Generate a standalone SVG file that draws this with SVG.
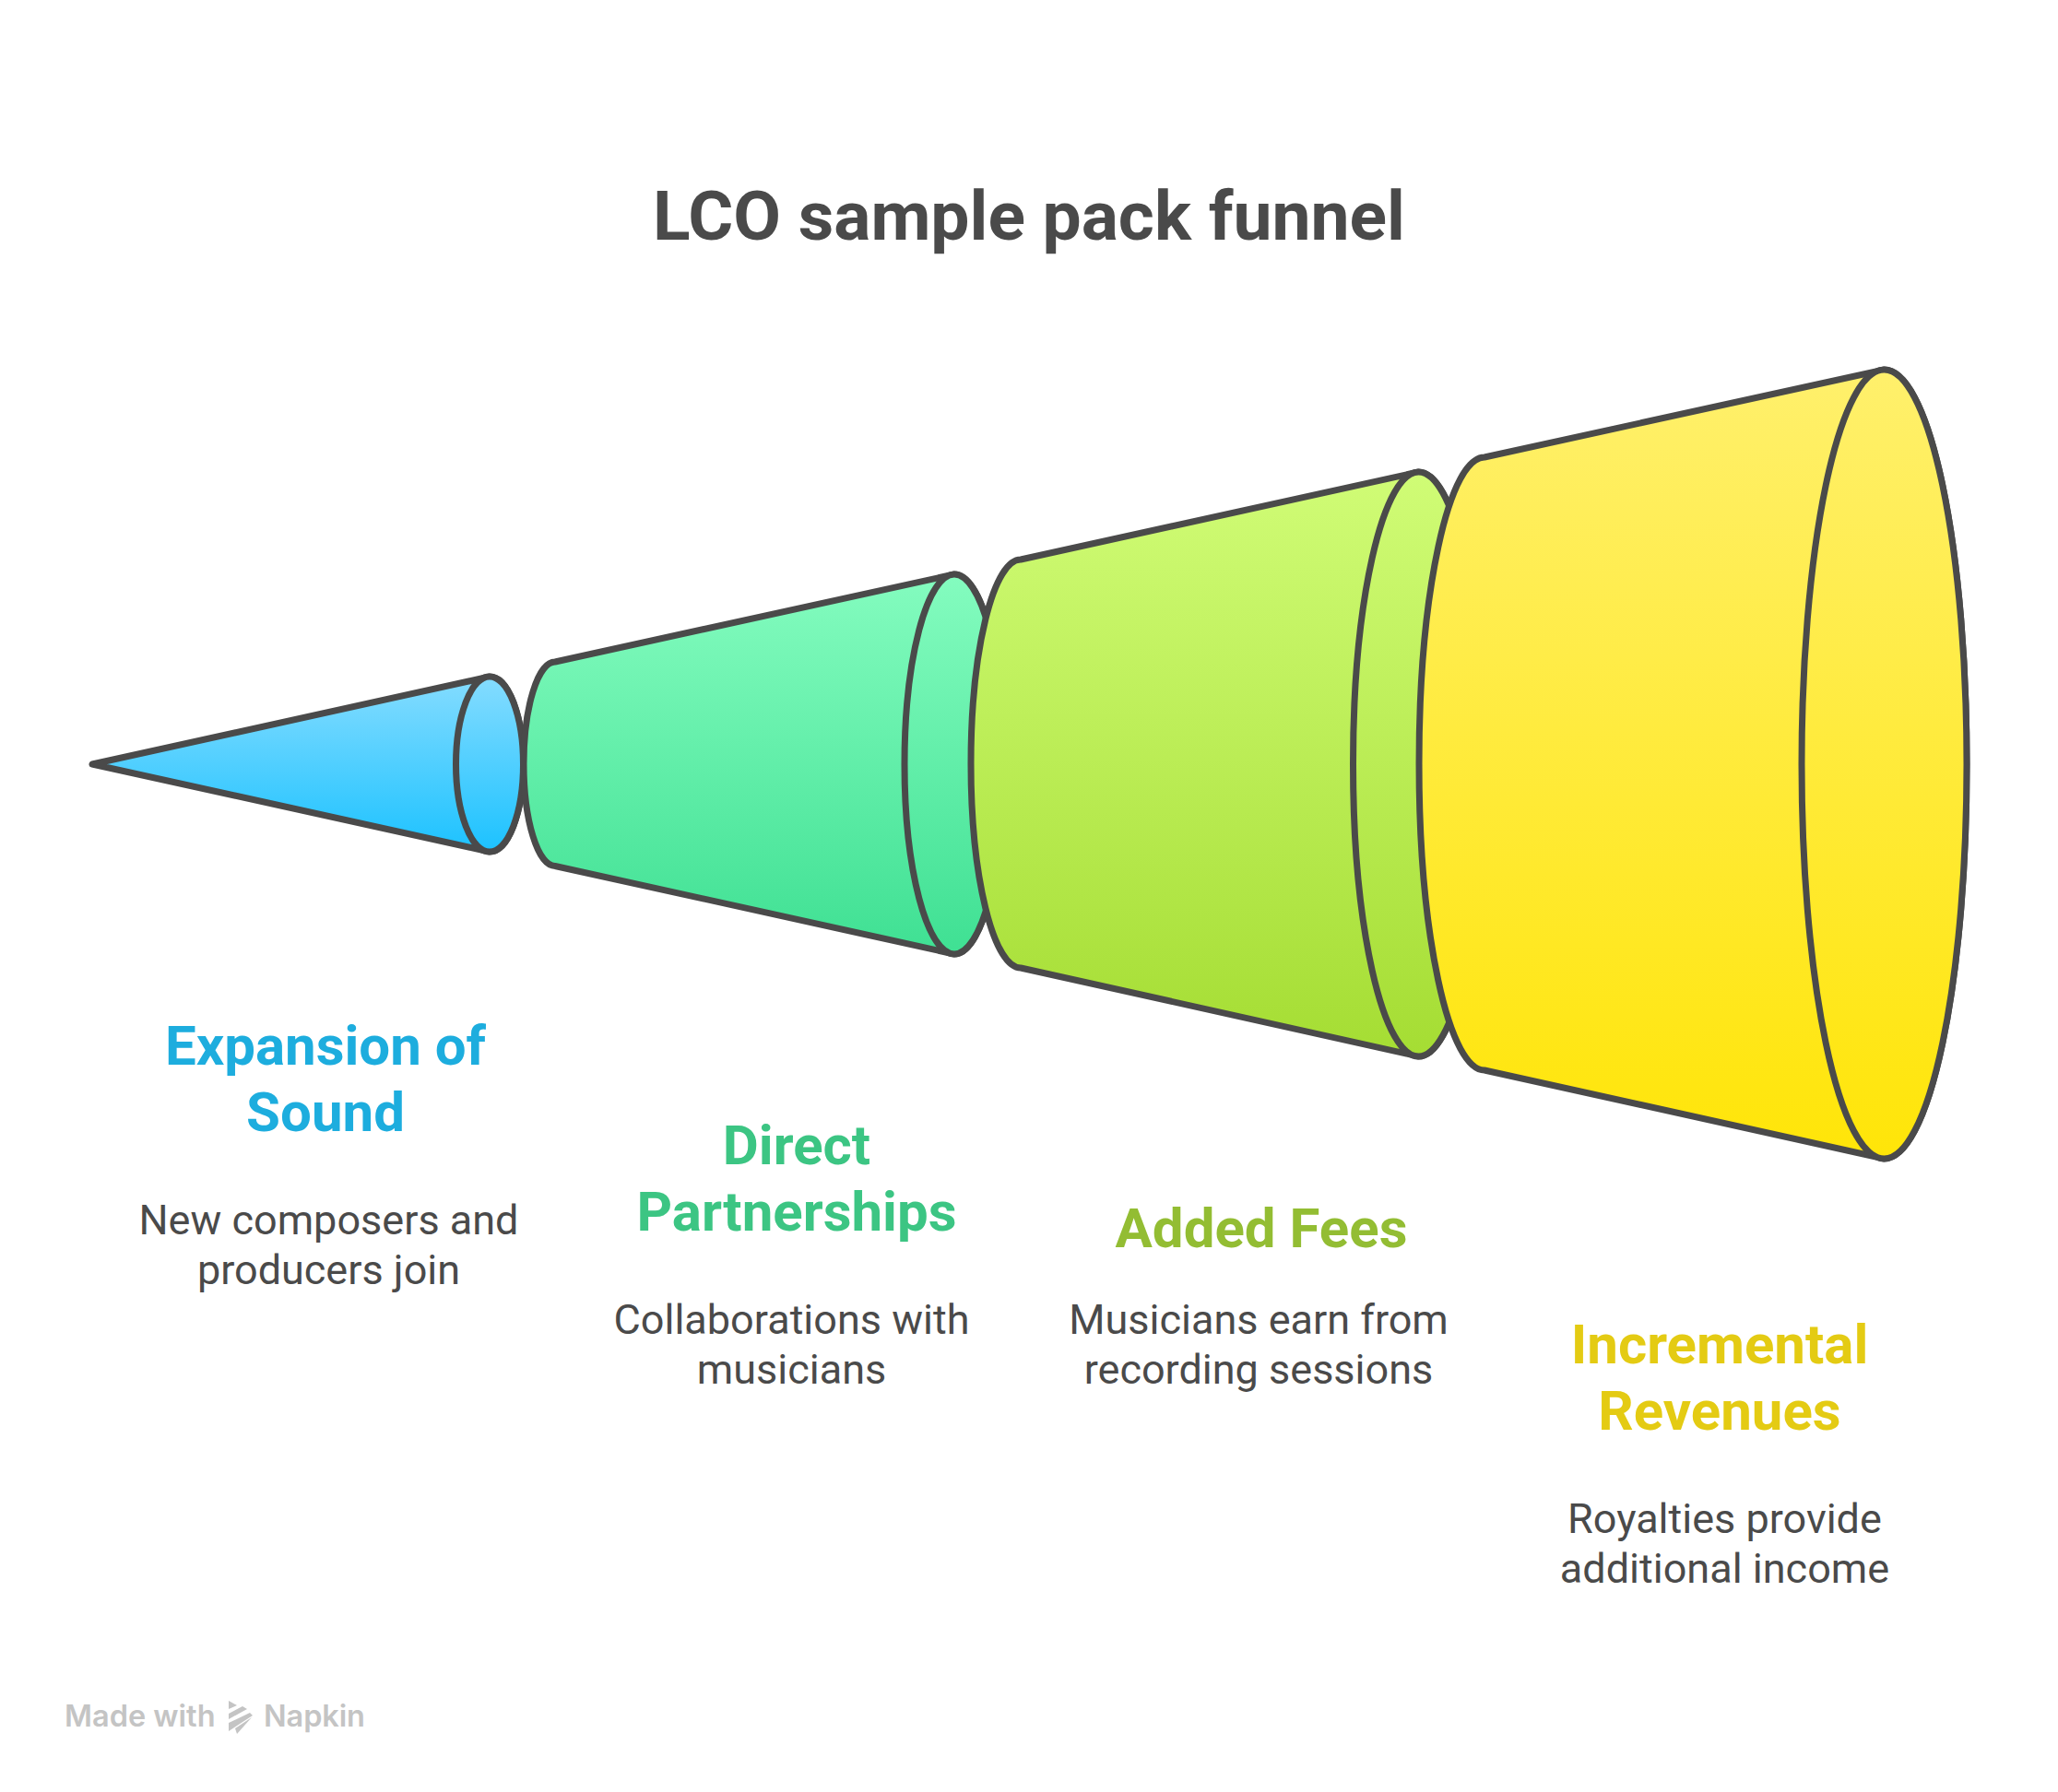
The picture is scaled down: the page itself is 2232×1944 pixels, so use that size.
<svg xmlns="http://www.w3.org/2000/svg" width="2232" height="1944" viewBox="0 0 2232 1944">
<style>
text{font-family:Roboto,"Liberation Sans",sans-serif;text-anchor:middle}
.s{stroke:#4a4a4a;stroke-width:7;stroke-linejoin:round}
.title{font-size:75px;font-weight:700;fill:#4a4a4a}
.h{font-size:60px;font-weight:700}
.b{font-size:45px;fill:#4a4a4a}
.wm{font-family:Inter,"Noto Sans",sans-serif;font-size:32.500px;font-weight:600;fill:#c4c4c4;text-anchor:start}
</style>
<defs>
<linearGradient id="g1" x1="0" y1="0" x2="0" y2="1"><stop offset="0" stop-color="#85dcff"/><stop offset="1" stop-color="#1cc2ff"/></linearGradient>
<linearGradient id="g2" x1="0" y1="0" x2="0" y2="1"><stop offset="0" stop-color="#84fcbf"/><stop offset="1" stop-color="#3fe093"/></linearGradient>
<linearGradient id="g3" x1="0" y1="0" x2="0" y2="1"><stop offset="0" stop-color="#d0fc76"/><stop offset="1" stop-color="#a5dd33"/></linearGradient>
<linearGradient id="g4" x1="0" y1="0" x2="0" y2="1"><stop offset="0" stop-color="#fff06c"/><stop offset="1" stop-color="#ffe508"/></linearGradient>
</defs>
<rect width="2232" height="1944" fill="#fff"/>
<text class="title" x="1116" y="260">LCO sample pack funnel</text>
<g id="stage1">
<path class="s" fill="url(#g1)" d="M100 829L531 734A36.500 95 0 0 1 531 924Z"/>
<ellipse class="s" fill="url(#g1)" cx="531" cy="829" rx="36.500" ry="95"/>
<text class="h" fill="#1dadde" x="353" y="1154.500">Expansion of</text>
<text class="h" fill="#1dadde" x="353" y="1226.500">Sound</text>
<text class="b" x="356.500" y="1339">New composers and</text>
<text class="b" x="356.500" y="1393">producers join</text>
</g>
<g id="stage2">
<path class="s" fill="url(#g2)" d="M602 718L1035 623A54 206 0 0 1 1035 1035L602 939.500A34 110.750 0 0 1 602 718Z"/>
<ellipse class="s" fill="url(#g2)" cx="1035" cy="829" rx="54" ry="206"/>
<text class="h" fill="#3cc583" x="864" y="1262.500">Direct</text>
<text class="h" fill="#3cc583" x="864" y="1335">Partnerships</text>
<text class="b" x="858.500" y="1447">Collaborations with</text>
<text class="b" x="858.500" y="1501">musicians</text>
</g>
<g id="stage3">
<path class="s" fill="url(#g3)" d="M1107 607L1538.500 512A71 317 0 0 1 1538.500 1146L1107 1050A54 221.500 0 0 1 1107 607Z"/>
<ellipse class="s" fill="url(#g3)" cx="1538.500" cy="829" rx="71" ry="317"/>
<text class="h" fill="#93bd33" x="1368" y="1352.500">Added Fees</text>
<text class="b" x="1365" y="1447">Musicians earn from</text>
<text class="b" x="1365" y="1501">recording sessions</text>
</g>
<g id="stage4">
<path class="s" fill="url(#g4)" d="M1610 496L2043.500 401A89.500 428 0 0 1 2043.500 1257L1610 1161A71 332.500 0 0 1 1610 496Z"/>
<ellipse class="s" fill="url(#g4)" cx="2043.500" cy="829" rx="89.500" ry="428"/>
<text class="h" fill="#e4cb13" x="1865" y="1478.500">Incremental</text>
<text class="h" fill="#e4cb13" x="1865" y="1551">Revenues</text>
<text class="b" x="1870.500" y="1663">Royalties provide</text>
<text class="b" x="1870.500" y="1717">additional income</text>
</g>
<g id="watermark">
<text class="wm" x="70" y="1873">Made with</text>
<g fill="#c4c4c4">
<polygon points="248,1845 257,1850 248,1854"/>
<polygon points="248,1859 263,1851 268,1854 248,1865"/>
<polygon points="248,1869 271,1858 274,1861 248,1878"/>
<polygon points="255,1875 273,1863 257,1881"/>
</g>
<text class="wm" x="286" y="1873" textLength="110">Napkin</text>
</g>
</svg>
